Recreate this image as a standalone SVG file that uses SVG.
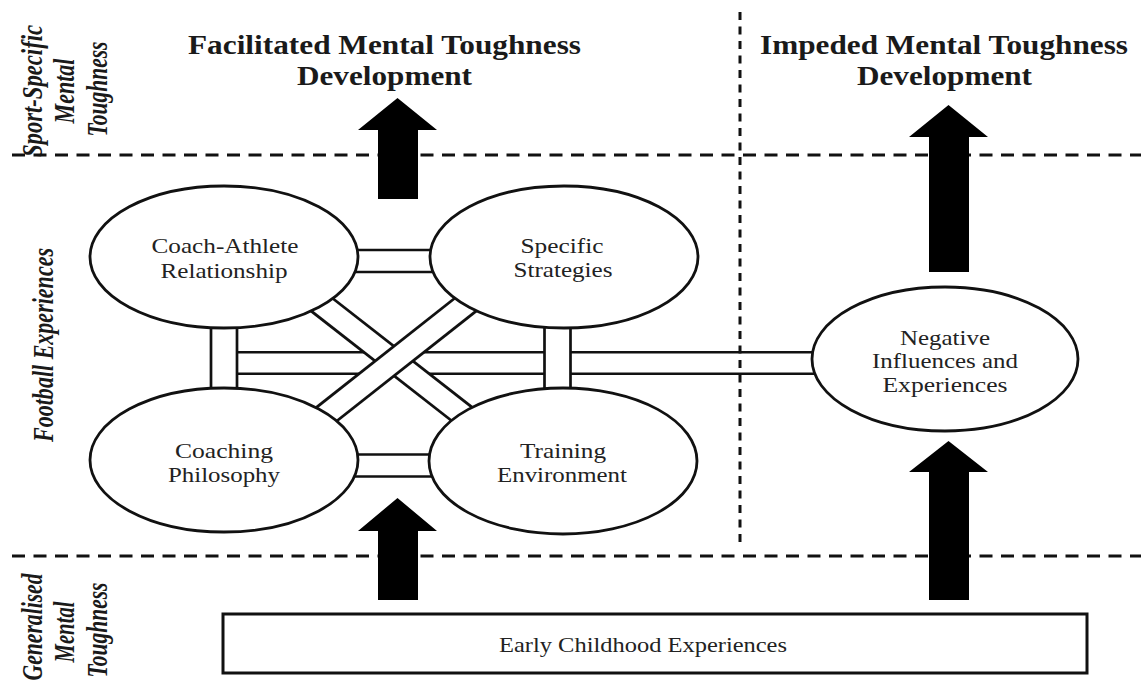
<svg xmlns="http://www.w3.org/2000/svg" width="1141" height="683" viewBox="0 0 1141 683" font-family="'Liberation Serif', 'Times New Roman', Times, serif">
<defs>
<style>
.bg{fill:#ffffff}
.dash-h{stroke:#111;stroke-width:3;stroke-dasharray:13 8.5;fill:none}
.dash-v{stroke:#111;stroke-width:3;stroke-dasharray:8 6.5;fill:none}
.barB{stroke:#111;fill:none}
.barW{stroke:#fff;fill:none}
.node{fill:#fff;stroke:#111;stroke-width:2.8}
.lbl{font-size:21px;fill:#222;text-anchor:middle}
.title{font-size:27px;font-weight:bold;fill:#1a1a1a;text-anchor:middle}
.side{font-size:24px;font-weight:bold;font-style:italic;fill:#1a1a1a;text-anchor:middle}
.arrow{fill:#000}
.box{fill:#fff;stroke:#111;stroke-width:3}
</style>
</defs>
<rect class="bg" x="0" y="0" width="1141" height="683"/>

<g id="region-labels" font-family="Liberation Serif">
<text class="side" transform="translate(42,91) scale(1.2,1) rotate(-90)" textLength="132" lengthAdjust="spacingAndGlyphs">Sport-Specific</text>
<text class="side" transform="translate(74,91) scale(1.2,1) rotate(-90)" textLength="65" lengthAdjust="spacingAndGlyphs">Mental</text>
<text class="side" transform="translate(107,89) scale(1.2,1) rotate(-90)" textLength="95" lengthAdjust="spacingAndGlyphs">Toughness</text>
<text class="side" transform="translate(53,345) scale(1.2,1) rotate(-90)" textLength="194" lengthAdjust="spacingAndGlyphs">Football Experiences</text>
<text class="side" transform="translate(42,627) scale(1.2,1) rotate(-90)" textLength="107" lengthAdjust="spacingAndGlyphs">Generalised</text>
<text class="side" transform="translate(74,632) scale(1.2,1) rotate(-90)" textLength="61" lengthAdjust="spacingAndGlyphs">Mental</text>
<text class="side" transform="translate(107,630) scale(1.2,1) rotate(-90)" textLength="95" lengthAdjust="spacingAndGlyphs">Toughness</text>
</g>

<g id="titles" font-family="Liberation Serif">
<text class="title" x="384.5" y="54" textLength="393" lengthAdjust="spacingAndGlyphs">Facilitated Mental Toughness</text>
<text class="title" x="384.5" y="85" textLength="175" lengthAdjust="spacingAndGlyphs">Development</text>
<text class="title" x="944" y="54" textLength="368" lengthAdjust="spacingAndGlyphs">Impeded Mental Toughness</text>
<text class="title" x="944.5" y="85" textLength="175" lengthAdjust="spacingAndGlyphs">Development</text>
</g>

<g id="connectors">
<line class="barB" x1="224" y1="363" x2="945" y2="363" stroke-width="24"/>
<line class="barW" x1="220" y1="363" x2="945" y2="363" stroke-width="18.8"/>
<line class="barB" x1="276" y1="269" x2="512" y2="453" stroke-width="26"/>
<line class="barW" x1="270" y1="264" x2="518" y2="458" stroke-width="20.6"/>
<line class="barB" x1="276" y1="454" x2="512" y2="268" stroke-width="26"/>
<line class="barW" x1="270" y1="459" x2="518" y2="263" stroke-width="20.6"/>
<line class="barB" x1="224" y1="257" x2="224" y2="460" stroke-width="28.7"/>
<line class="barW" x1="224" y1="257" x2="224" y2="460" stroke-width="23.3"/>
<line class="barB" x1="557.5" y1="257" x2="557.5" y2="461" stroke-width="28.7"/>
<line class="barW" x1="557.5" y1="257" x2="557.5" y2="461" stroke-width="23.3"/>
<line class="barB" x1="300" y1="261" x2="500" y2="261" stroke-width="24.7"/>
<line class="barW" x1="300" y1="261" x2="500" y2="261" stroke-width="19.3"/>
<line class="barB" x1="300" y1="465.5" x2="500" y2="465.5" stroke-width="24.7"/>
<line class="barW" x1="300" y1="465.5" x2="500" y2="465.5" stroke-width="19.3"/>
</g>

<g id="dividers">
<line class="dash-h" x1="12" y1="155" x2="1141" y2="155"/>
<line class="dash-h" x1="12" y1="556" x2="1141" y2="556"/>
<line class="dash-v" x1="740" y1="12" x2="740" y2="548"/>
</g>

<g id="node-coach-athlete" font-family="Liberation Serif">
<ellipse class="node" cx="224" cy="257" rx="134" ry="71"/>
<text class="lbl" x="225" y="253" textLength="147" lengthAdjust="spacingAndGlyphs">Coach-Athlete</text>
<text class="lbl" x="224" y="278" textLength="127" lengthAdjust="spacingAndGlyphs">Relationship</text>
</g>
<g id="node-specific-strategies" font-family="Liberation Serif">
<ellipse class="node" cx="564" cy="257" rx="134" ry="71"/>
<text class="lbl" x="562" y="253" textLength="83" lengthAdjust="spacingAndGlyphs">Specific</text>
<text class="lbl" x="563" y="277" textLength="99" lengthAdjust="spacingAndGlyphs">Strategies</text>
</g>
<g id="node-coaching-philosophy" font-family="Liberation Serif">
<ellipse class="node" cx="224" cy="460" rx="134" ry="72"/>
<text class="lbl" x="224" y="458" textLength="98" lengthAdjust="spacingAndGlyphs">Coaching</text>
<text class="lbl" x="224" y="482" textLength="112" lengthAdjust="spacingAndGlyphs">Philosophy</text>
</g>
<g id="node-training-environment" font-family="Liberation Serif">
<ellipse class="node" cx="563" cy="461" rx="134" ry="73"/>
<text class="lbl" x="563" y="458" textLength="86" lengthAdjust="spacingAndGlyphs">Training</text>
<text class="lbl" x="562" y="482" textLength="130" lengthAdjust="spacingAndGlyphs">Environment</text>
</g>
<g id="node-negative-influences" font-family="Liberation Serif">
<ellipse class="node" cx="945" cy="359" rx="133" ry="72"/>
<text class="lbl" x="945" y="345" textLength="90" lengthAdjust="spacingAndGlyphs">Negative</text>
<text class="lbl" x="945" y="368" textLength="146" lengthAdjust="spacingAndGlyphs">Influences and</text>
<text class="lbl" x="945" y="392" textLength="125" lengthAdjust="spacingAndGlyphs">Experiences</text>
</g>
<g id="node-early-childhood" font-family="Liberation Serif">
<rect class="box" x="223" y="614" width="864" height="59"/>
<text class="lbl" x="643" y="652" textLength="288" lengthAdjust="spacingAndGlyphs">Early Childhood Experiences</text>
</g>

<g id="arrows">
<polygon class="arrow" points="378,199 378,130 358,130 397.5,98 437,130 418,130 418,199"/>
<polygon class="arrow" points="929,272 929,137 909,137 948.5,105 988,137 969,137 969,272"/>
<polygon class="arrow" points="378,600 378,531 358,531 397.5,498 437,531 418,531 418,600"/>
<polygon class="arrow" points="929,600 929,472 909,472 948.5,441 988,472 969,472 969,600"/>
</g>
</svg>
